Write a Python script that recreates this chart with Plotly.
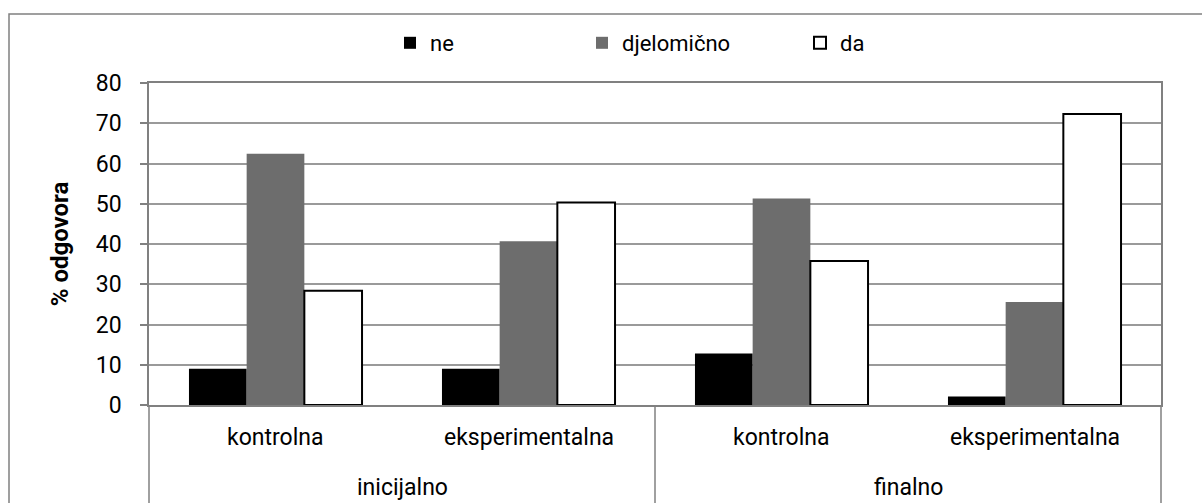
import plotly.graph_objects as go

# Survey answers (% of respondents) per measurement phase and group
phases = ["inicijalno", "inicijalno", "finalno", "finalno"]
groups = ["kontrolna", "eksperimentalna", "kontrolna", "eksperimentalna"]
series_names = ["ne", "djelomično", "da"]
ne_vals = [9.0, 9.0, 12.8, 2.1]
djelomicno_vals = [62.4, 40.7, 51.3, 25.6]
da_vals = [28.4, 50.3, 35.8, 72.3]
y_ticks = [0, 10, 20, 30, 40, 50, 60, 70, 80]

FONT = "Roboto, Lato, Arial, sans-serif"
GRID = "#9a9a9a"
FRAME = "#808080"

W, H = 1202, 503
L, R, T, B = 149, 41, 83, 98
pw, ph = W - L - R, H - T - B

def px_x(px):
    return (px - L) / pw

def px_y(py):
    return (H - B - py) / ph

fig = go.Figure()
styles = [
    dict(color="#000000", line=dict(color="#000000", width=0)),
    dict(color="#6d6d6d", line=dict(color="#6d6d6d", width=0)),
    dict(color="#ffffff", line=dict(color="#000000", width=2)),
]
legend_ids = ["legend", "legend2", "legend3"]
for name, vals, st, lg in zip(series_names, [ne_vals, djelomicno_vals, da_vals], styles, legend_ids):
    fig.add_trace(go.Bar(
        x=[phases, groups], y=vals, name=name, marker=st, legend=lg,
        showlegend=True,
    ))

legend_common = dict(
    orientation="h", yanchor="middle", xanchor="left",
    bgcolor="rgba(0,0,0,0)", borderwidth=0,
    font=dict(family=FONT, size=22, color="#000000"),
)
legend_left_px = [390, 582, 800]
lg_y = px_y(43)

fig.update_layout(
    width=W, height=H,
    margin=dict(l=L, r=R, t=T, b=B),
    paper_bgcolor="#ffffff", plot_bgcolor="#ffffff",
    showlegend=True,
    barmode="group", bargap=0.316, bargroupgap=0,
    font=dict(family=FONT, size=22, color="#000000"),
    legend=dict(x=px_x(legend_left_px[0]), y=lg_y, **legend_common),
    legend2=dict(x=px_x(legend_left_px[1]), y=lg_y, **legend_common),
    legend3=dict(x=px_x(legend_left_px[2]), y=lg_y, **legend_common),
    xaxis=dict(
        type="multicategory",
        showline=True, linecolor=FRAME, linewidth=1.5, mirror=True,
        showgrid=False, showdividers=False, showticklabels=False,
        ticks="",
    ),
    yaxis=dict(
        range=[0, 80], tickvals=y_ticks,
        showgrid=True, gridcolor=GRID, gridwidth=1.5,
        showline=True, linecolor=FRAME, linewidth=1.5, mirror=True,
        ticks="outside", ticklen=7, tickcolor=FRAME, tickwidth=1.5,
        ticklabelstandoff=14,
        tickfont=dict(family=FONT, size=23, color="#000000"),
        title=dict(text="<b>% odgovora</b>", standoff=20,
                   font=dict(family=FONT, size=24, color="#000000")),
        zeroline=False,
    ),
)

# two-level category labels under the axis
n = len(groups)
annotations = []
for i, g in enumerate(groups):
    annotations.append(dict(
        text=g, xref="paper", yref="paper", x=(i + 0.5) / n, y=px_y(437),
        xanchor="center", yanchor="middle", showarrow=False,
        font=dict(family=FONT, size=23, color="#000000"),
    ))
seen = []
for p in phases:
    if p not in seen:
        seen.append(p)
for p in seen:
    idx = [i for i, q in enumerate(phases) if q == p]
    xc = (min(idx) + max(idx) + 1) / 2 / n
    annotations.append(dict(
        text=p, xref="paper", yref="paper", x=xc, y=px_y(487),
        xanchor="center", yanchor="middle", showarrow=False,
        font=dict(family=FONT, size=23, color="#000000"),
    ))
fig.update_layout(annotations=annotations)

shapes = []
# category table lines below the axis
for xp in [0, 0.5, 1]:
    shapes.append(dict(type="line", xref="paper", yref="paper",
                       x0=xp, x1=xp, y0=-0.4, y1=0,
                       line=dict(color=FRAME, width=1.5)))
# outer chart frame
shapes.append(dict(type="rect", xref="paper", yref="paper",
                   x0=px_x(9), x1=px_x(1210), y0=-0.4, y1=px_y(14),
                   line=dict(color=FRAME, width=1.5), layer="below"))
fig.update_layout(shapes=shapes)

fig.write_html("out.html")
